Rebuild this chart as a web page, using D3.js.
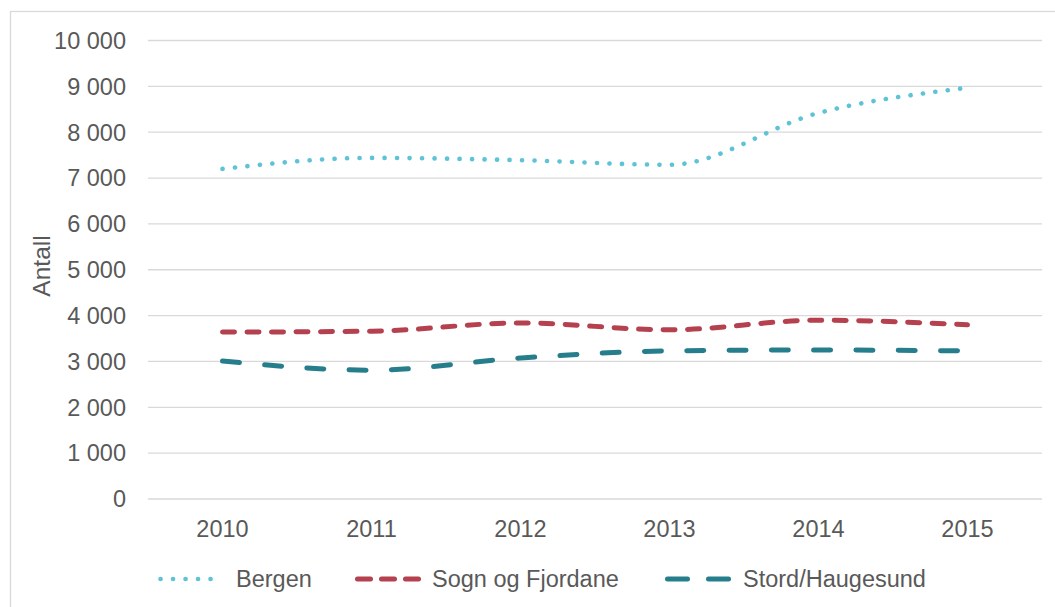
<!DOCTYPE html>
<html>
<head>
<meta charset="utf-8">
<script src="https://cdn.jsdelivr.net/npm/d3@7"></script>
<style>
  body { margin: 0; background: #fff; }
  svg text { font-family: "Liberation Sans", Arial, sans-serif; fill: #595959; }
</style>
</head>
<body>
<div id="chart"></div>
<script>
const width = 1055;
const height = 607;

// Data
const years = ["2010", "2011", "2012", "2013", "2014", "2015"];
const bergen = [7200, 7440, 7390, 7290, 8420, 8970];
const sognFjordane = [3640, 3660, 3840, 3690, 3900, 3800];
const stordHaugesund = [3010, 2810, 3075, 3230, 3250, 3230];
const yTicks = [0, 1000, 2000, 3000, 4000, 5000, 6000, 7000, 8000, 9000, 10000];

const series = [
  { name: "Bergen", values: bergen, color: "#5fc3d7", dash: "0.1 12.4", width: 4.6,
    legend: { x1: 160.5, x2: 222.5, dash: "0.1 12.4", tx: 236 } },
  { name: "Sogn og Fjordane", values: sognFjordane, color: "#b5414f", dash: "12 12.5", width: 5,
    legend: { x1: 357.5, x2: 418.5, dash: "13 11", tx: 432 } },
  { name: "Stord/Haugesund", values: stordHaugesund, color: "#267e8c", dash: "17 25.3", width: 5,
    legend: { x1: 667.5, x2: 728.5, dash: "20 21", tx: 743 } },
];

const svg = d3.select("#chart").append("svg").attr("width", width).attr("height", height);

// Chart border (top and left visible)
svg.append("rect")
  .attr("x", 10.5).attr("y", 11.5)
  .attr("width", width + 20).attr("height", height + 20)
  .attr("fill", "none").attr("stroke", "#d9d9d9").attr("stroke-width", 1.3);

const x = d3.scaleBand().domain(years).range([148, 1042]);
const y = d3.scaleLinear().domain([0, 10000]).range([499, 40.5]);

const fmt = (v) => d3.format(",")(v).replace(/,/g, " ");

// Gridlines
svg.append("g")
  .selectAll("line")
  .data(yTicks)
  .join("line")
  .attr("x1", 148).attr("x2", 1042)
  .attr("y1", (d) => y(d)).attr("y2", (d) => y(d))
  .attr("stroke", "#d9d9d9").attr("stroke-width", 1.3);

// Y axis labels
svg.append("g")
  .selectAll("text")
  .data(yTicks)
  .join("text")
  .attr("x", 126)
  .attr("y", (d) => y(d) + 8.3)
  .attr("text-anchor", "end")
  .style("font-size", "23.5px")
  .text(fmt);

// X axis labels
svg.append("g")
  .selectAll("text")
  .data(years)
  .join("text")
  .attr("x", (d) => x(d) + x.bandwidth() / 2)
  .attr("y", 537)
  .attr("text-anchor", "middle")
  .style("font-size", "23.5px")
  .text((d) => d);

// Y axis title
svg.append("text")
  .attr("transform", "translate(50,266) rotate(-90)")
  .attr("text-anchor", "middle")
  .style("font-size", "24.5px")
  .text("Antall");

const line = d3.line()
  .x((d, i) => x(years[i]) + x.bandwidth() / 2)
  .y((d) => y(d))
  .curve(d3.curveMonotoneX);

svg.append("g")
  .selectAll("path")
  .data(series)
  .join("path")
  .attr("d", (d) => line(d.values))
  .attr("fill", "none")
  .attr("stroke", (d) => d.color)
  .attr("stroke-width", (d) => d.width)
  .attr("stroke-dasharray", (d) => d.dash)
  .attr("stroke-linecap", "round");

// Legend
const legend = svg.append("g")
  .selectAll("g")
  .data(series)
  .join("g")
  .attr("transform", "translate(0,579)");

legend.append("line")
  .attr("x1", (d) => d.legend.x1).attr("x2", (d) => d.legend.x2)
  .attr("stroke", (d) => d.color)
  .attr("stroke-width", (d) => d.width)
  .attr("stroke-dasharray", (d) => d.legend.dash)
  .attr("stroke-linecap", "round");

legend.append("text")
  .attr("x", (d) => d.legend.tx)
  .attr("y", 8.3)
  .style("font-size", "23.5px")
  .text((d) => d.name);
</script>
</body>
</html>
